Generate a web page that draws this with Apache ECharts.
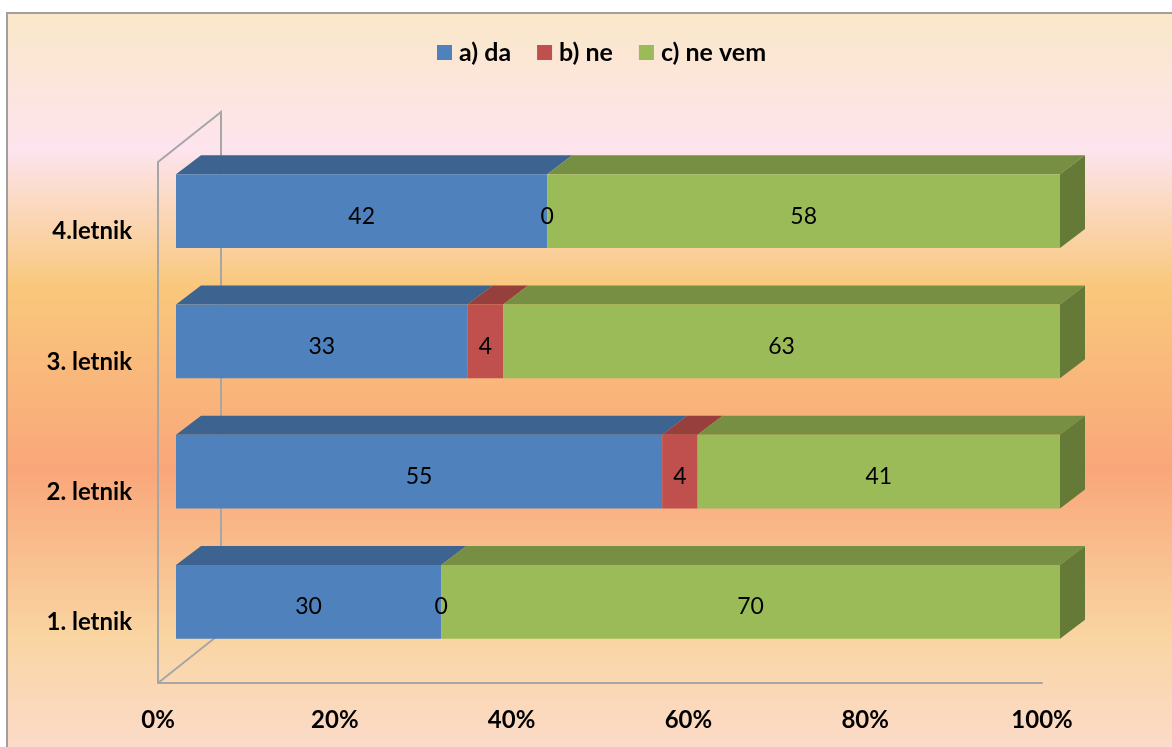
<!DOCTYPE html>
<html>
<head>
<meta charset="utf-8">
<script src="https://cdn.jsdelivr.net/npm/echarts@6/dist/echarts.min.js"></script>
<style>
html,body{margin:0;padding:0;background:#fff;}
#chart{width:1172px;height:747px;}
</style>
</head>
<body>
<div id="chart"></div>
<script>
// ---- data ----
var categories = ['1. letnik', '2. letnik', '3. letnik', '4.letnik'];
var seriesNames = ['a) da', 'b) ne', 'c) ne vem'];
var daValues = [30, 55, 33, 42];
var neValues = [0, 4, 4, 0];
var neVemValues = [70, 41, 63, 58];
var xTickValues = [0, 20, 40, 60, 80, 100];

// ---- styles ----
var FRONT = ['#4f81bd', '#c0504d', '#9bbb59'];
var TOP = ['#3d6490', '#963f3d', '#768f42'];
var SIDE = ['#34567c', '#7f3634', '#657a37'];
var DX = 25, DY = -19;
var FONT = 'Lato';

var allValues = [daValues, neValues, neVemValues];

function buildData(si) {
  var out = [];
  for (var c = 0; c < categories.length; c++) {
    var start = 0;
    for (var k = 0; k < si; k++) start += allValues[k][c];
    out.push([start, start + allValues[si][c], c, allValues[si][c]]);
  }
  return out;
}

function makeRender(si) {
  var isLast = si === allValues.length - 1;
  return function (params, api) {
    var start = api.value(0), end = api.value(1), cat = api.value(2), val = api.value(3);
    var p0 = api.coord([start, cat]);
    var p1 = api.coord([end, cat]);
    var band = api.size([0, 1])[1];
    var h = band * 0.568;
    var x0 = p0[0], x1 = p1[0];
    var yt = p0[1] - h / 2, yb = p0[1] + h / 2;
    var children = [];
    if (x1 - x0 > 0.01) {
      children.push({
        type: 'polygon',
        shape: { points: [[x0, yt], [x1, yt], [x1 + DX, yt + DY], [x0 + DX, yt + DY]] },
        style: { fill: TOP[si] }
      });
      children.push({
        type: 'rect',
        shape: { x: x0, y: yt, width: x1 - x0, height: h },
        style: { fill: FRONT[si] }
      });
      if (isLast) {
        children.push({
          type: 'polygon',
          shape: { points: [[x1, yt], [x1 + DX, yt + DY], [x1 + DX, yb + DY], [x1, yb]] },
          style: { fill: SIDE[si] }
        });
      }
    }
    children.push({
      type: 'text',
      z2: 100,
      style: {
        text: String(val),
        x: (x0 + x1) / 2,
        y: p0[1] + 5,
        align: 'center',
        verticalAlign: 'middle',
        fill: '#000',
        fontSize: 23,
        fontFamily: FONT
      }
    });
    return { type: 'group', children: children };
  };
}

var barSeries = seriesNames.map(function (name, si) {
  return {
    name: name,
    type: 'custom',
    xAxisIndex: 1,
    yAxisIndex: 1,
    z: 5,
    itemStyle: { color: FRONT[si] },
    renderItem: makeRender(si),
    encode: { x: [0, 1], y: 2 },
    data: buildData(si)
  };
});

// wall frame
var frameSeries = {
  type: 'custom',
  xAxisIndex: 0,
  yAxisIndex: 0,
  z: 1,
  silent: true,
  renderItem: function (params, api) {
    var cs = params.coordSys;
    var wx = 63, wy = -50;
    var left = api.coord([0, 0])[0];
    var top = cs.y, bottom = cs.y + cs.height;
    var st = { stroke: '#a6a6a6', lineWidth: 2, fill: null };
    return {
      type: 'group',
      children: [
        { type: 'polyline', shape: { points: [[left, top], [left + wx, top + wy], [left + wx, bottom + wy]] }, style: st },
        { type: 'line', shape: { x1: left, y1: bottom, x2: left + wx, y2: bottom + wy }, style: st }
      ]
    };
  },
  data: [[0, 0]]
};

var chart = echarts.init(document.getElementById('chart'));
chart.setOption({
  backgroundColor: '#ffffff',
  animation: false,
  graphic: [{
    type: 'rect',
    z: -10,
    silent: true,
    shape: { x: 7, y: 13, width: 1180, height: 760 },
    style: {
      stroke: '#a0a0a0',
      lineWidth: 2,
      fill: new echarts.graphic.LinearGradient(0, 0, 0, 1, [
        { offset: 0, color: '#fae8c8' },
        { offset: 0.18, color: '#fde4ee' },
        { offset: 0.36, color: '#f9c87c' },
        { offset: 0.60, color: '#f9a77a' },
        { offset: 0.82, color: '#f9d5a2' },
        { offset: 1, color: '#fcdcd2' }
      ])
    }
  }],
  legend: {
    top: 35,
    left: 432,
    itemWidth: 15,
    itemHeight: 15,
    itemGap: 26,
    icon: 'rect',
    data: seriesNames,
    formatter: function (name) { return '{t|' + name + '}'; },
    textStyle: {
      fontFamily: FONT, fontWeight: 'bold', fontSize: 25, color: '#000',
      rich: { t: { fontFamily: FONT, fontWeight: 'bold', fontSize: 25, color: '#000', padding: [0, 0, 0, 2] } }
    }
  },
  grid: [
    { left: 158, right: 130, top: 162, bottom: 64 },
    { left: 176, right: 112, top: 146, bottom: 80 }
  ],
  xAxis: [
    {
      gridIndex: 0, type: 'value', min: 0, max: 100, interval: 20,
      axisLine: { show: true, lineStyle: { color: '#a6a6a6', width: 2 } },
      axisTick: { show: false },
      splitLine: { show: false },
      axisLabel: {
        margin: 25,
        fontFamily: FONT, fontWeight: 'bold', fontSize: 24, color: '#000',
        formatter: function (v) { return xTickValues.indexOf(v) >= 0 ? v + '%' : ''; }
      }
    },
    { gridIndex: 1, type: 'value', min: 0, max: 100, show: false }
  ],
  yAxis: [
    {
      gridIndex: 0, type: 'category', data: categories,
      axisLine: { show: true, lineStyle: { color: '#a6a6a6', width: 2 } },
      axisTick: { show: false },
      splitLine: { show: false },
      axisLabel: {
        margin: 26,
        formatter: function (v) { return '{c|' + v + '}'; },
        fontFamily: FONT, fontWeight: 'bold', fontSize: 24, color: '#000',
        rich: { c: { fontFamily: FONT, fontWeight: 'bold', fontSize: 24, color: '#000', padding: [9, 0, 0, 0] } }
      }
    },
    { gridIndex: 1, type: 'category', data: categories, show: false }
  ],
  series: [frameSeries].concat(barSeries)
});
</script>
</body>
</html>
